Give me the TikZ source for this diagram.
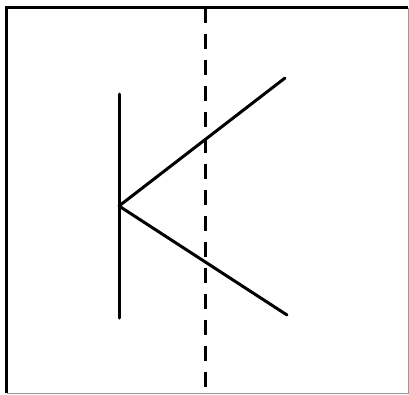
\documentclass[tikz,border=0pt]{standalone}
\begin{document}
\begin{tikzpicture}[x=1pt,y=-1pt,
  stroke/.style={line width=3pt,black,line cap=round},
  dashline/.style={line width=3pt,black,dash pattern=on 15pt off 11pt}]
\useasboundingbox (0,0) rectangle (409,394);
\fill[white] (0,0) rectangle (409,394);
% frame
\coordinate (tl) at (6.5,7.5);
\coordinate (tr) at (408,7.5);
\coordinate (bl) at (6.5,393);
\coordinate (br) at (408,393);
\draw[line width=3pt,black] (bl) -- (tl) -- (tr);
\draw[line width=1pt,gray!80] (tr) -- (br) -- (bl);
% dashed axis
\coordinate (dtop) at (205.5,7.5);
\coordinate (dbot) at (205.5,394);
\draw[dashline] (dtop) -- (dbot);
% K shape
\coordinate (vtop) at (119,94);
\coordinate (vbot) at (119,318);
\coordinate (j) at (119,206);
\coordinate (up) at (285,78);
\coordinate (lo) at (287,315);
\draw[stroke] (vtop) -- (vbot);
\draw[stroke] (j) -- (up);
\draw[stroke] (j) -- (lo);
\end{tikzpicture}
\end{document}
